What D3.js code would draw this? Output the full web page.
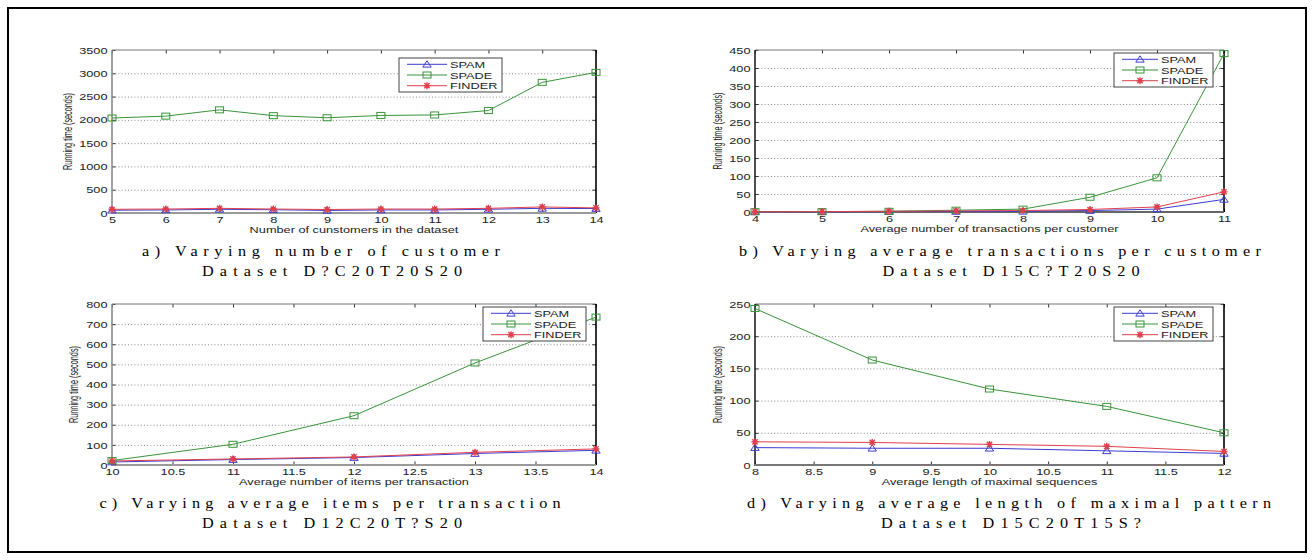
<!DOCTYPE html>
<html><head><meta charset="utf-8">
<script src="https://cdn.jsdelivr.net/npm/d3@7/dist/d3.min.js"></script>
<style>body{margin:0;background:#fff}svg{display:block}</style>
</head><body>
<svg id="c" width="1314" height="560"></svg>
<script>
// ---------------- DATA ----------------
const seriesNames = ["SPAM", "SPADE", "FINDER"];

// a) Varying number of customer
const xA = [5, 6, 7, 8, 9, 10, 11, 12, 13, 14];
const spamA   = [60, 65, 80, 70, 55, 65, 65, 80, 100, 95];
const spadeA  = [2040, 2080, 2215, 2090, 2045, 2095, 2105, 2200, 2805, 3020];
const finderA = [80, 85, 100, 85, 75, 85, 85, 100, 130, 110];
const xTicksA = [5, 6, 7, 8, 9, 10, 11, 12, 13, 14];
const yTicksA = [0, 500, 1000, 1500, 2000, 2500, 3000, 3500];

// b) Varying average transactions per customer
const xB = [4, 5, 6, 7, 8, 9, 10, 11];
const spamB   = [0.3, 0.5, 1, 1.5, 2, 4, 8, 35];
const spadeB  = [1, 1, 2, 5, 8, 41, 95, 440];
const finderB = [0.5, 1, 2, 3, 4, 7, 14, 56];
const xTicksB = [4, 5, 6, 7, 8, 9, 10, 11];
const yTicksB = [0, 50, 100, 150, 200, 250, 300, 350, 400, 450];

// c) Varying average items per transaction
const xC = [10, 11, 12, 13, 14];
const spamC   = [15, 27, 37, 57, 73];
const spadeC  = [22, 103, 245, 507, 735];
const finderC = [20, 30, 40, 63, 80];
const xTicksC = [10, 10.5, 11, 11.5, 12, 12.5, 13, 13.5, 14];
const yTicksC = [0, 100, 200, 300, 400, 500, 600, 700, 800];

// d) Varying average length of maximal pattern
const xD = [8, 9, 10, 11, 12];
const spamD   = [27, 26, 26, 22, 18];
const spadeD  = [243, 163, 118, 91, 50];
const finderD = [36, 35, 32, 29, 21];
const xTicksD = [8, 8.5, 9, 9.5, 10, 10.5, 11, 11.5, 12];
const yTicksD = [0, 50, 100, 150, 200, 250];

const xLabels = ["Number of cunstomers in the dataset",
                 "Average number of transactions per customer",
                 "Average number of items per transaction",
                 "Average length of maximal sequences"];
const yLabel = "Running time (seconds)";
const captions1 = ["a) Varying number of customer",
                   "b) Varying average transactions per customer",
                   "c) Varying average items per transaction",
                   "d) Varying average length of maximal pattern"];
const captions2 = ["Dataset D?C20T20S20", "Dataset D15C?T20S20",
                   "Dataset D12C20T?S20", "Dataset D15C20T15S?"];

// ---------------- LAYOUT / STYLE ----------------
const SX = 1.3;               // horizontal stretch of the scanned axis text
const CSX = 1.08;             // horizontal stretch of caption text
const FONT = "'Liberation Sans', Arial, Helvetica, sans-serif";
const SERIF = "'Liberation Serif', 'Times New Roman', serif";
const colors = ["#3c3cd4", "#3a943a", "#e0404c"];
const markers = ["tri", "sq", "star"];

const panels = [
  {x:xA, s:[spamA, spadeA, finderA], xt:xTicksA, yt:yTicksA, x0:112, x1:596, y0:50, y1:213,
   leg:{x:399, y:58, w:103}, yl:67.5, leftCol:"#8a8a8a", botCol:"#9a9a9a",
   c1:{cx:321, y:256, w:358}, c2:{cx:332, y:276, w:260}},
  {x:xB, s:[spamB, spadeB, finderB], xt:xTicksB, yt:yTicksB, x0:755, x1:1224, y0:50, y1:212,
   leg:{x:1114, y:53, w:99}, yl:717.5, leftCol:"#222", botCol:"#666",
   c1:{cx:1000, y:256, w:522}, c2:{cx:1011, y:276, w:257}},
  {x:xC, s:[spamC, spadeC, finderC], xt:xTicksC, yt:yTicksC, x0:112, x1:596, y0:304, y1:465,
   leg:{x:483, y:307, w:103}, yl:73.5, leftCol:"#8a8a8a", botCol:"#9a9a9a",
   c1:{cx:330, y:508, w:461}, c2:{cx:332, y:528, w:260}},
  {x:xD, s:[spamD, spadeD, finderD], xt:xTicksD, yt:yTicksD, x0:755, x1:1224, y0:304, y1:465,
   leg:{x:1114, y:307, w:99}, yl:717.5, leftCol:"#222", botCol:"#777",
   c1:{cx:1009, y:508, w:524}, c2:{cx:1011, y:528, w:260}}
];

const svg = d3.select("#c");
svg.append("rect").attr("x", 8).attr("y", 8).attr("width", 1298).attr("height", 544)
  .attr("fill", "none").attr("stroke", "#000").attr("stroke-width", 2);

function stext(g, x, y, str, anchor, size) {
  return g.append("text")
    .attr("transform", `translate(${x},${y}) scale(${SX},1)`)
    .attr("text-anchor", anchor)
    .attr("font-family", FONT).attr("font-size", size)
    .attr("fill", "#222").text(str);
}

function drawMarker(sel, type, color) {
  if (type === "tri") {
    sel.append("path").attr("d", "M0,-3.5L4.2,2.8L-4.2,2.8Z")
      .attr("fill", "none").attr("stroke", color).attr("stroke-width", 1);
  } else if (type === "sq") {
    sel.append("rect").attr("x", -4).attr("y", -3).attr("width", 8).attr("height", 6)
      .attr("fill", "none").attr("stroke", color).attr("stroke-width", 1);
  } else {
    sel.append("path")
      .attr("d", "M-3.5,0H3.5M0,-3.5V3.5M-2.6,-2.6L2.6,2.6M-2.6,2.6L2.6,-2.6")
      .attr("fill", "none").attr("stroke", color).attr("stroke-width", 1.4);
  }
}

const fmt = d => String(d);

panels.forEach((p, pi) => {
  const x = d3.scaleLinear().domain([p.xt[0], p.xt[p.xt.length - 1]]).range([p.x0, p.x1]);
  const y = d3.scaleLinear().domain([p.yt[0], p.yt[p.yt.length - 1]]).range([p.y1, p.y0]);
  const W = p.x1 - p.x0;
  const g = svg.append("g");

  // dotted horizontal grid
  g.append("g").attr("transform", `translate(${p.x0},0)`)
    .call(d3.axisLeft(y).tickValues(p.yt.slice(1, -1)).tickSize(-W).tickFormat(""))
    .call(a => {
      a.select(".domain").remove();
      a.selectAll("line").attr("stroke", "#8c8c8c").attr("stroke-dasharray", "1,2.2");
    });

  // top and right inner ticks
  g.append("g").attr("transform", `translate(0,${p.y0})`)
    .call(d3.axisTop(x).tickValues(p.xt).tickSize(-3.5).tickFormat(""))
    .call(a => { a.select(".domain").remove(); a.selectAll("line").attr("stroke", "#333"); });
  g.append("g").attr("transform", `translate(${p.x1},0)`)
    .call(d3.axisRight(y).tickValues(p.yt).tickSize(-3.5).tickFormat(""))
    .call(a => { a.select(".domain").remove(); a.selectAll("line").attr("stroke", "#333"); });

  // bottom axis
  g.append("g").attr("transform", `translate(0,${p.y1})`)
    .call(d3.axisBottom(x).tickValues(p.xt).tickSize(-3.5).tickPadding(3).tickFormat(fmt))
    .call(a => {
      a.select(".domain").remove();
      a.selectAll("line").attr("stroke", "#333");
      a.selectAll("text").attr("font-family", FONT).attr("font-size", 9.8).attr("fill", "#222")
        .attr("transform", `scale(${SX},1)`);
    });
  // left axis
  g.append("g").attr("transform", `translate(${p.x0},0)`)
    .call(d3.axisLeft(y).tickValues(p.yt).tickSize(-3.5).tickPadding(0).tickFormat(fmt))
    .call(a => {
      a.select(".domain").remove();
      a.selectAll("line").attr("stroke", "#333");
      a.selectAll("text").attr("font-family", FONT).attr("font-size", 9.8).attr("fill", "#222")
        .attr("x", -4.5 / SX).attr("transform", `scale(${SX},1)`);
    });

  // frame
  g.append("line").attr("x1", p.x0).attr("x2", p.x1).attr("y1", p.y0).attr("y2", p.y0)
    .attr("stroke", "#777").attr("stroke-width", 1);
  g.append("line").attr("x1", p.x1).attr("x2", p.x1).attr("y1", p.y0).attr("y2", p.y1)
    .attr("stroke", "#000").attr("stroke-width", 1.6);
  g.append("line").attr("x1", p.x0).attr("x2", p.x0).attr("y1", p.y0).attr("y2", p.y1 + 1)
    .attr("stroke", p.leftCol).attr("stroke-width", 1.6);
  g.append("line").attr("x1", p.x0 - 1).attr("x2", p.x1).attr("y1", p.y1).attr("y2", p.y1)
    .attr("stroke", p.botCol).attr("stroke-width", 1.8);

  // series
  const line = d3.line().x((d, i) => x(p.x[i])).y(d => y(d));
  p.s.forEach((vals, si) => {
    g.append("path").attr("d", line(vals)).attr("fill", "none")
      .attr("stroke", colors[si]).attr("stroke-width", 1);
  });
  p.s.forEach((vals, si) => {
    vals.forEach((v, i) => {
      const m = g.append("g").attr("transform", `translate(${x(p.x[i])},${y(v)})`);
      drawMarker(m, markers[si], colors[si]);
    });
  });

  // legend
  const L = p.leg;
  const lg = g.append("g");
  lg.append("rect").attr("x", L.x).attr("y", L.y).attr("width", L.w).attr("height", 34)
    .attr("fill", "#fff").attr("stroke", "#444").attr("stroke-width", 1);
  seriesNames.forEach((name, si) => {
    const yy = L.y + 6.3 + si * 10.7;
    const lx1 = L.x + 8, lx2 = L.x + L.w - 55;
    lg.append("line").attr("x1", lx1).attr("x2", lx2).attr("y1", yy).attr("y2", yy)
      .attr("stroke", colors[si]).attr("stroke-width", 1);
    drawMarker(lg.append("g").attr("transform", `translate(${(lx1 + lx2) / 2},${yy})`), markers[si], colors[si]);
    stext(lg, L.x + L.w - 52, yy + 3.6, name, "start", 9.8);
  });

  // axis labels
  stext(g, (p.x0 + p.x1) / 2, p.y1 + 20, xLabels[pi], "middle", 9.8);
  g.append("text")
    .attr("transform", `translate(${p.yl + 4},${(p.y0 + p.y1) / 2}) rotate(-90)`)
    .attr("text-anchor", "middle").attr("font-family", FONT).attr("font-size", 12)
    .attr("textLength", 77).attr("lengthAdjust", "spacingAndGlyphs")
    .attr("fill", "#222").text(yLabel);

  // captions
  [[p.c1, captions1[pi]], [p.c2, captions2[pi]]].forEach(([c, str]) => {
    svg.append("text")
      .attr("transform", `translate(${c.cx},${c.y}) scale(${CSX},1)`)
      .attr("text-anchor", "middle").attr("font-family", SERIF).attr("font-size", 15)
      .attr("textLength", c.w / CSX).attr("lengthAdjust", "spacing")
      .attr("fill", "#000").text(str);
  });
});
</script>
</body></html>
